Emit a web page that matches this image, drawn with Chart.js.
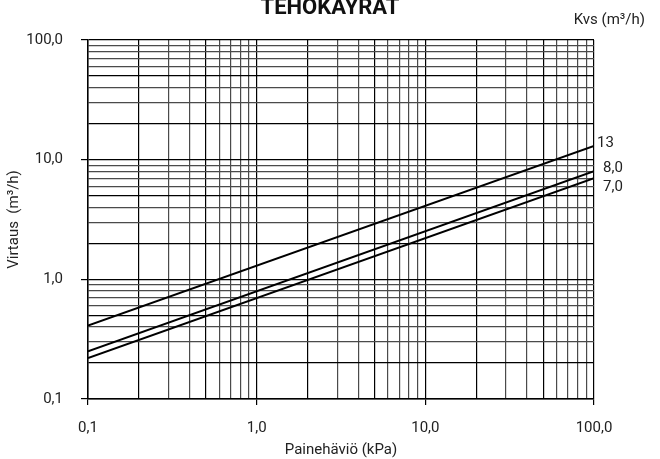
<!DOCTYPE html>
<html>
<head>
<meta charset="utf-8">
<script src="https://cdn.jsdelivr.net/npm/chart.js@4/dist/chart.umd.min.js"></script>
<style>
  html, body { margin: 0; padding: 0; background: #fff; }
  #wrap { width: 660px; height: 459px; }
</style>
</head>
<body>
<div id="wrap"><canvas id="chartTeho" width="660" height="459"></canvas></div>
<script>
// painehäviö (kPa) ja virtaus (m3/h) kullekin Kvs-arvolle
const painehavio = [0.1, 100];
const virtausKvs13 = [0.41, 13];
const virtausKvs8 = [0.25, 8];
const virtausKvs7 = [0.22, 7];
const kvsLabels = ['13', '8,0', '7,0'];
const decadeTicks = [0.1, 1, 10, 100];
const decadeLabels = ['0,1', '1,0', '10,0', '100,0'];

const FONT = "Roboto, 'DejaVu Sans', sans-serif";

function logGridTicks(scale) {
    const ticks = [];
    for (let e = -1; e <= 1; e++) {
        for (let m = 1; m <= 9; m++) {
            ticks.push({ value: +(m * Math.pow(10, e)).toPrecision(3) });
        }
    }
    ticks.push({ value: 100 });
    scale.ticks = ticks;
}

function tickLabel(value) {
    const i = decadeTicks.findIndex(d => Math.abs(d - value) < 1e-9);
    return i >= 0 ? decadeLabels[i] : '';
}

function isDecade(value) {
    return decadeTicks.some(d => Math.abs(d - value) < 1e-9);
}

function gridColor(ctx) {
    const v = ctx.tick ? ctx.tick.value : 0;
    const m = Math.round(v / Math.pow(10, Math.floor(Math.log10(v) + 1e-9)));
    return (m === 1 || m === 2 || m === 5) ? '#000' : '#4a4a4a';
}

const textPlugin = {
    id: 'textPlugin',
    afterDraw(chart) {
        const c = chart.ctx;
        c.save();
        c.fillStyle = '#111';
        c.font = 'bold 22px ' + FONT;
        c.textAlign = 'center';
        c.textBaseline = 'alphabetic';
        c.fillText('TEHOKÄYRÄT', 330, 14);
        c.fillStyle = '#222';
        c.font = '15px ' + FONT;
        c.textAlign = 'right';
        c.fillText('Kvs (m³/h)', 645, 24);
        // viivojen nimet oikeassa reunassa
        c.textAlign = 'left';
        c.textBaseline = 'middle';
        const offsets = [[3, -3], [9, -3], [9, 9]];
        chart.data.datasets.forEach((ds, i) => {
            const meta = chart.getDatasetMeta(i);
            const p = meta.data[meta.data.length - 1];
            c.fillText(kvsLabels[i], p.x + offsets[i][0], p.y + offsets[i][1]);
        });
        c.restore();
    }
};

const lineStyle = {
    borderColor: '#000',
    borderWidth: 2,
    pointRadius: 0,
    fill: false,
    tension: 0
};

new Chart(document.getElementById('chartTeho').getContext('2d'), {
    type: 'line',
    data: {
        datasets: [
            Object.assign({ label: '13', data: painehavio.map((x, i) => ({ x: x, y: virtausKvs13[i] })) }, lineStyle),
            Object.assign({ label: '8,0', data: painehavio.map((x, i) => ({ x: x, y: virtausKvs8[i] })) }, lineStyle),
            Object.assign({ label: '7,0', data: painehavio.map((x, i) => ({ x: x, y: virtausKvs7[i] })) }, lineStyle)
        ]
    },
    options: {
        responsive: false,
        animation: false,
        layout: { padding: { left: 0, top: 40, right: 66, bottom: 0 } },
        plugins: {
            legend: { display: false },
            tooltip: { enabled: false },
            title: { display: false }
        },
        scales: {
            x: {
                type: 'logarithmic',
                min: 0.1,
                max: 100,
                afterBuildTicks: logGridTicks,
                afterFit(scale) { scale.height = 60; },
                border: { display: true, color: '#000', width: 1.5 },
                grid: {
                    color: gridColor,
                    lineWidth: 1.2,
                    tickLength: 6,
                    tickColor: ctx => isDecade(ctx.tick.value) ? '#000' : 'rgba(0,0,0,0)'
                },
                ticks: {
                    autoSkip: false,
                    maxRotation: 0,
                    padding: 14,
                    color: '#222',
                    font: { family: FONT, size: 15 },
                    callback: v => tickLabel(v)
                },
                title: {
                    display: true,
                    text: 'Painehäviö (kPa)',
                    color: '#222',
                    font: { family: FONT, size: 15 },
                    padding: { top: 2, bottom: 0 }
                }
            },
            y: {
                type: 'logarithmic',
                min: 0.1,
                max: 100,
                afterBuildTicks: logGridTicks,
                afterFit(scale) { scale.width = 88; },
                border: { display: true, color: '#000', width: 1.5 },
                grid: {
                    color: gridColor,
                    lineWidth: 1.2,
                    tickLength: 7,
                    tickColor: ctx => isDecade(ctx.tick.value) ? '#000' : 'rgba(0,0,0,0)'
                },
                ticks: {
                    autoSkip: false,
                    padding: 18,
                    color: '#222',
                    font: { family: FONT, size: 15 },
                    callback: v => tickLabel(v)
                },
                title: {
                    display: true,
                    text: 'Virtaus  (m³/h)',
                    color: '#222',
                    font: { family: FONT, size: 15 },
                    padding: { top: 5, bottom: 0 }
                }
            }
        }
    },
    plugins: [textPlugin]
});
</script>
</body>
</html>
